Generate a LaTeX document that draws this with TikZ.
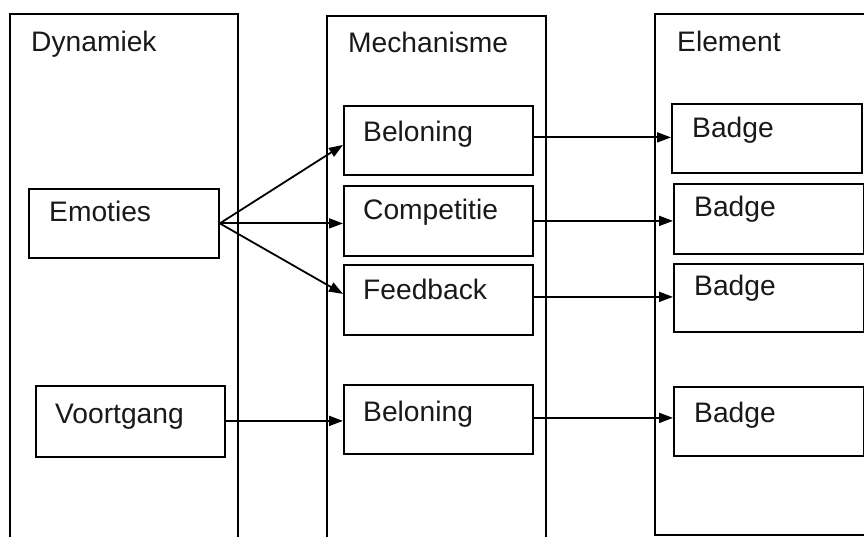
\documentclass[tikz,border=0pt]{standalone}
\usepackage{fontspec}
\setmainfont{Liberation Sans}
\usetikzlibrary{arrows.meta}
\begin{document}
\begin{tikzpicture}[x=1pt,y=-1pt,
  frame/.style={draw=black,line width=1.8pt},
  box/.style={draw=black,line width=1.8pt,rectangle,inner sep=0pt,anchor=north west,minimum width=#1,minimum height=69pt},
  box/.default=189pt,
  lbl/.style={anchor=base west,inner sep=0pt,text=black!90,font=\fontsize{28.2}{34}\selectfont},
  arr/.style={draw=black,line width=1.8pt,-{Triangle[length=14pt,width=10pt]}}]
\clip (0,0) rectangle (864,537);
\fill[white] (0,0) rectangle (864,537);
% columns
\draw[frame] (10,560) -- (10,14) -- (238,14) -- (238,560);
\draw[frame] (327,560) -- (327,16) -- (546,16) -- (546,560);
\draw[frame] (900,535) -- (655,535) -- (655,14) -- (900,14);
\node[lbl] (tdyn) at (31,52) {Dynamiek};
\node[lbl] (tmech) at (348,53) {Mechanisme};
\node[lbl] (telem) at (677,52) {Element};
% dynamiek boxes
\node[box=190pt] (emo) at (28,188) {};
\node[lbl] (temo) at (49,222) {Emoties};
\node[box=189pt,minimum height=71pt] (voo) at (35,385) {};
\node[lbl] (tvoo) at (55,423) {Voortgang};
% mechanisme boxes
\node[box] (bel1) at (343,105) {};
\node[lbl] (tbel1) at (363,142) {Beloning};
\node[box,minimum height=70pt] (comp) at (343,185) {};
\node[lbl] (tcomp) at (363,220) {Competitie};
\node[box,minimum height=70pt] (fb) at (343,264) {};
\node[lbl] (tfb) at (363,299) {Feedback};
\node[box] (bel2) at (343,384) {};
\node[lbl] (tbel2) at (363,421) {Beloning};
% element boxes
\node[box=190pt] (g1) at (671,103) {};
\node[lbl] (tg1) at (692,138) {Badge};
\node[box=190pt,minimum height=70pt] (g2) at (673,183) {};
\node[lbl] (tg2) at (694,217) {Badge};
\node[box=190pt,minimum height=68pt] (g3) at (673,263) {};
\node[lbl] (tg3) at (694,295) {Badge};
\node[box=190pt] (g4) at (673,386) {};
\node[lbl] (tg4) at (694,422) {Badge};
% connectors
\draw[arr] (emo.east) -- ([yshift=-4.5pt]bel1.west);
\draw[arr] (emo.east) -- (emo.east -| comp.west);
\draw[arr] (emo.east) -- ([yshift=6pt]fb.west);
\draw[arr] ([yshift=0.5pt]voo.east) -- ([yshift=0.5pt]voo.east -| bel2.west);
\draw[arr] ([yshift=3pt]bel1.east) -- ([yshift=3pt]bel1.east -| g1.west);
\draw[arr] (comp.east) -- (comp.east -| g2.west);
\draw[arr] ([yshift=3pt]fb.east) -- ([yshift=3pt]fb.east -| g3.west);
\draw[arr] ([yshift=1.5pt]bel2.east) -- ([yshift=1.5pt]bel2.east -| g4.west);
\end{tikzpicture}
\end{document}
